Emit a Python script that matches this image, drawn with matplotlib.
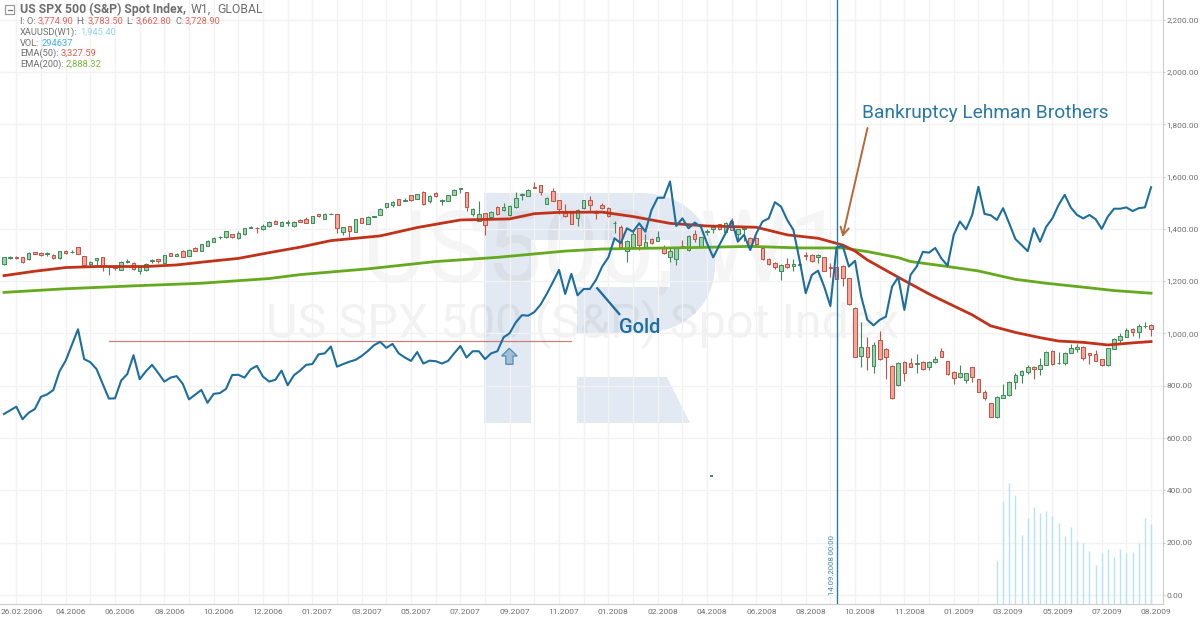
import numpy as np
import matplotlib
matplotlib.use('Agg')
import matplotlib.pyplot as plt
from matplotlib.patches import PathPatch, Polygon, Rectangle
from matplotlib.path import Path
from matplotlib.transforms import offset_copy

plt.rcParams['font.family'] = ['Roboto', 'DejaVu Sans']

# weekly candles
opens = [1266,1290,1294,1291,1284,1311,1308,1303,1300,1287,
         1317,1311,1329,1296,1266,1281,1291,1254,1256,1243,
         1272,1268,1240,1243,1277,1283,1268,1306,1297,1317,
         1298,1327,1315,1336,1350,1367,1368,1380,1365,1380,
         1405,1405,1398,1409,1431,1412,1423,1409,1435,1436,
         1424,1456,1438,1456,1456,1388,1409,1389,1440,1419,
         1446,1454,1482,1491,1513,1508,1528,1515,1541,1507,
         1538,1506,1507,1530,1553,1540,1457,1431,1459,1447,
         1485,1472,1453,1485,1528,1527,1561,1567,1496,1544,
         1510,1462,1462,1443,1481,1510,1470,1491,1481,1421,
         1406,1315,1329,1402,1329,1360,1355,1332,1294,1283,
         1335,1318,1379,1329,1388,1398,1417,1389,1431,1379,
         1398,1366,1364,1326,1284,1268,1240,1266,1259,1262,
         1299,1301,1291,1292,1255,1253,1259,1211,1099,914,
         947,876,974,942,877,802,891,886,884,891,
         871,891,932,894,854,832,822,871,825,777,
         733,679,754,763,813,840,854,873,864,880,
         933,886,886,927,942,950,924,922,901,878,
         941,975,988,1016,1006,1027,1032]
closes = [1291,1292,1289,1273,1306,1304,1300,1309,1287,1314,
          1309,1313,1304,1263,1275,1287,1258,1256,1250,1275,
          1277,1245,1253,1266,1279,1276,1299,1298,1304,1294,
          1319,1317,1341,1355,1364,1369,1391,1368,1383,1402,
          1408,1403,1411,1428,1419,1426,1426,1426,1428,1424,
          1449,1448,1458,1458,1402,1406,1391,1437,1424,1447,
          1448,1475,1497,1504,1493,1511,1509,1533,1494,1526,
          1525,1509,1528,1549,1556,1485,1475,1456,1414,1465,
          1457,1482,1489,1519,1533,1549,1558,1542,1518,1508,
          1475,1451,1419,1472,1510,1490,1462,1479,1448,1424,
          1332,1355,1380,1338,1351,1345,1368,1307,1317,1329,
          1327,1373,1361,1367,1391,1408,1398,1424,1396,1398,
          1402,1338,1343,1284,1264,1253,1263,1253,1267,1265,
          1296,1278,1301,1239,1252,1207,1211,1113,911,947,
          909,956,904,911,752,888,848,873,886,865,
          891,904,911,845,828,848,848,835,777,752,
          682,758,765,816,841,855,871,864,881,931,
          883,888,927,943,948,905,918,896,878,943,
          979,990,1013,1007,1029,1029,1018]
highs = [1292,1297,1298,1292,1310,1312,1312,1313,1302,1317,
         1319,1320,1330,1297,1276,1290,1292,1258,1262,1277,
         1284,1272,1255,1270,1284,1285,1300,1307,1306,1318,
         1322,1329,1343,1357,1368,1374,1393,1382,1392,1405,
         1412,1408,1418,1430,1433,1431,1434,1430,1437,1445,
         1450,1457,1461,1462,1458,1408,1411,1439,1442,1449,
         1451,1478,1500,1507,1515,1517,1530,1535,1543,1528,
         1540,1516,1530,1553,1558,1541,1480,1505,1461,1470,
         1487,1498,1491,1540,1537,1552,1578,1569,1521,1555,
         1512,1495,1464,1474,1512,1525,1472,1500,1483,1430,
         1415,1356,1400,1404,1380,1365,1390,1340,1330,1330,
         1358,1375,1395,1370,1400,1412,1419,1426,1443,1400,
         1405,1368,1370,1335,1288,1272,1265,1290,1286,1270,
         1312,1303,1303,1293,1268,1255,1260,1212,1100,1045,
         985,968,1010,945,878,890,893,905,921,893,
         893,912,945,895,856,880,850,873,827,782,
         735,760,805,820,850,860,880,876,905,933,
         935,930,930,960,958,952,926,935,903,945,
         981,1000,1020,1020,1036,1043,1035]
lows = [1262,1286,1285,1271,1282,1302,1296,1297,1285,1285,
        1302,1308,1303,1262,1255,1262,1238,1225,1243,1241,
        1270,1243,1226,1240,1270,1268,1266,1296,1295,1292,
        1296,1315,1314,1334,1348,1362,1366,1366,1363,1378,
        1402,1383,1396,1407,1417,1410,1412,1407,1427,1422,
        1422,1447,1436,1455,1386,1377,1368,1387,1421,1417,
        1444,1452,1480,1484,1491,1505,1506,1513,1493,1498,
        1522,1490,1505,1528,1538,1468,1450,1429,1375,1440,
        1453,1469,1451,1480,1510,1525,1555,1530,1494,1506,
        1455,1445,1417,1410,1475,1470,1437,1477,1445,1383,
        1330,1272,1327,1320,1327,1343,1353,1305,1275,1262,
        1325,1316,1350,1327,1375,1385,1395,1387,1394,1360,
        1352,1333,1330,1282,1262,1247,1203,1250,1240,1255,
        1280,1275,1270,1237,1215,1205,1182,1110,910,870,
        862,850,900,824,750,800,817,870,848,862,
        860,887,909,843,808,830,810,815,775,745,
        680,677,752,760,786,810,845,826,842,878,
        880,884,878,925,930,900,885,894,875,875,
        939,965,985,990,982,1022,992]

gold = [692,706,720,672,697,711,758,767,784,855,896,956,1016,902,890,864,807,751,752,820,
        845,917,825,855,880,849,816,831,837,807,748,766,784,735,769,772,788,841,842,831,
        863,876,835,816,823,858,802,840,858,
        880,883,920,924,950,873,883,892,899,914,933,955,968,945,960,924,908,895,929,885,
        896,894,885,895,924,952,908,932,932,902,924,932,985,1001,1043,1070,1068,1082,1110,1151,
        1196,1243,1151,1228,1146,1170,1170,1205,
        1256,1291,1364,1345,1402,1389,1421,1389,1472,1519,1519,1581,1411,1440,1402,1424,1408,1345,1291,1338,
        1383,1431,1351,1377,1319,1383,1428,1440,1502,1485,1434,1396,1281,1154,1224,1240,1179,1105,1329,1335,
        1256,1278,1141,1052,1031,1052,1064,1179,1215,
        1090,1224,1256,1312,1309,1327,1287,1259,1377,1428,1398,1453,1561,1457,1452,1434,1479,1421,1361,1338,
        1315,1402,1351,1408,1440,1491,1530,1481,1453,1440,1453,1437,1400,1447,1477,1477,1482,1468,1479,1482,1559]

ema50_weeks = [0,5,10,15,23,28,33,38,43,48,53,61,67,74,82,86,90,97,102,108,114,122,127,132,136,138,140,145,150,152,157,160,164,168,171,175,179,183,186]
ema50 = [1221,1238,1252,1256,1256,1262,1275,1287,1309,1330,1355,1373,1405,1434,1438,1458,1463,1464,1447,1421,1411,1406,1377,1364,1338,1315,1281,1215,1151,1128,1071,1029,1004,984,971,966,956,964,969]

ema200_weeks = [0,10,21,32,43,48,59,70,80,91,97,113,121,129,136,140,145,147,153,158,164,169,175,180,186]
ema200 = [1157,1171,1182,1192,1210,1225,1247,1275,1291,1315,1323,1329,1333,1327,1327,1313,1290,1275,1256,1239,1207,1192,1177,1164,1154]

volume_weeks = list(range(161, 187))
volume = [131,360,427,382,229,293,335,312,321,303,274,225,259,206,197,168,115,162,176,147,176,162,166,199,293,271]

price_ticks = [0,200,400,600,800,1000,1200,1400,1600,1800,2000,2200]
date_labels = ['26.02.2006','04.2006','06.2006','08.2006','10.2006','12.2006','01.2007','03.2007',
               '05.2007','07.2007','09.2007','11.2007','01.2008','02.2008','04.2008','06.2008',
               '08.2008','10.2008','11.2008','01.2009','03.2009','05.2009','07.2009','08.2009']
lehman_week = 135
resistance = 971
resistance_weeks = [17, 92]

GREEN_F, GREEN_E = '#9ad4a7', '#3f8a5a'
RED_F, RED_E = '#f5a498', '#bf5347'
BLUE = '#1c6e9e'

fig = plt.figure(figsize=(12, 6.2), dpi=100)

# background layer in image pixels, for the watermark
bg = fig.add_axes([0, 0, 1, 1], zorder=0)
bg.set_xlim(0, 1200)
bg.set_ylim(620, 0)
bg.axis('off')

logo_col = '#e3e9f2'
V, L, C, Z = Path.MOVETO, Path.LINETO, Path.CURVE4, Path.CLOSEPOLY
verts = [(484,193),(640,193),(690,193),(715,230),(715,265),(715,300),(690,333),(640,333),(577,333),(577,287),
         (670,287),(670,240),(531,240),(531,423),(484,423),(484,193)]
codes = [V,L,C,C,C,C,C,C,L,L,L,L,L,L,L,Z]
bg.add_patch(PathPatch(Path(verts, codes), fc=logo_col, ec='none'))
bg.add_patch(Polygon([(577,377),(667,377),(690,423),(577,423)], fc=logo_col, ec='none'))
bg.text(362, 282, 'US500, W1', fontsize=72, color=(0, 0, 0, 0.04), va='baseline')
bg.text(266, 338, 'US SPX 500 (S&P) Spot Index', fontsize=35, color=(0, 0, 0, 0.05), va='baseline')

ax = fig.add_axes([0, 16/620, 1162.5/1200, 604/620], zorder=1)
ax.patch.set_alpha(0)
ax.set_xlim(-4/6.167, (1162.5-4)/6.167)
ax.set_ylim(-34.4, 2275)

ax.set_axisbelow(True)
ax.grid(True, color='#f2f2f2', lw=1)
ax.set_yticks(price_ticks)
ax.set_yticklabels([f'{p:,.2f}' for p in price_ticks])
ax.yaxis.tick_right()
ax.set_xticks(np.arange(2, 187, 4), minor=True)
ax.set_xticks(np.arange(2, 187, 8))
ax.set_xticklabels(date_labels)
ax.grid(True, which='minor', axis='x', color='#f2f2f2', lw=1)
ax.tick_params(axis='y', length=1.5, color='#cccccc', labelsize=6, labelcolor='#6f6f6f', pad=1.5)
ax.tick_params(axis='x', which='both', length=0, labelsize=6, labelcolor='#6f6f6f', pad=3.5)
for t in ax.get_xticklabels():
    t.set_transform(offset_copy(t.get_transform(), fig=fig, x=5, y=0, units='dots'))
for s in ['top', 'left']:
    ax.spines[s].set_visible(False)
for s in ['right', 'bottom']:
    ax.spines[s].set_color('#cccccc')

# volume bars hang from the bottom of the pane
ymin = ax.get_ylim()[0]
ax.vlines(volume_weeks, ymin, volume, color='#b4e3fa', lw=1.0, zorder=2)

# candles
weeks = np.arange(len(closes))
opens = np.array(opens)
closes = np.array(closes)
up = closes >= opens
ax.vlines(weeks[up], np.array(lows)[up], np.array(highs)[up], color=GREEN_E, lw=0.8, zorder=3)
ax.vlines(weeks[~up], np.array(lows)[~up], np.array(highs)[~up], color=RED_E, lw=0.8, zorder=3)
ax.bar(weeks[up], (closes - opens)[up], bottom=opens[up], width=0.58, color=GREEN_F, edgecolor=GREEN_E, lw=0.7, zorder=4)
ax.bar(weeks[~up], (opens - closes)[~up], bottom=closes[~up], width=0.58, color=RED_F, edgecolor=RED_E, lw=0.7, zorder=4)

ax.plot(ema200_weeks, ema200, color='#64a91e', lw=2.0, zorder=5)
ax.plot(ema50_weeks, ema50, color='#c2321b', lw=2.0, zorder=6)
ax.plot(weeks, gold, color=BLUE, lw=1.5, zorder=7, solid_joinstyle='round')

ax.plot(resistance_weeks, [resistance, resistance], color='#c9807c', lw=0.9, zorder=4)
ax.axvline(lehman_week, color='#2a7ba8', lw=1.0, zorder=8)

# drawings on top, in image pixels
fg = fig.add_axes([0, 0, 1, 1], zorder=2)
fg.set_xlim(0, 1200)
fg.set_ylim(620, 0)
fg.axis('off')

fg.text(832, 595, '14.09.2008 00:00', rotation=90, fontsize=5.6, color='#3f8bb3', ha='center', va='bottom')
fg.add_patch(Polygon([(509.3,348.3),(517.2,356),(513,356),(513,364.3),(505.8,364.3),(505.8,356),(501.6,356)],
                     fc='#a3bfd6', ec='#4d8fb5', lw=0.9))
fg.add_patch(Rectangle((709.5, 474.5), 3, 2, fc='#3d85b0', ec='none'))

fg.plot([597.3, 619.3], [288.3, 314], color=BLUE, lw=1.7)
fg.text(619, 333, 'Gold', fontsize=14.5, fontweight='medium', color=BLUE, va='baseline')

fg.text(861.5, 118.5, 'Bankruptcy Lehman Brothers', fontsize=13.75, color='#2a78a5', va='baseline')
fg.annotate('', xy=(842.5, 237), xytext=(867.5, 128),
            arrowprops=dict(arrowstyle='->,head_length=0.55,head_width=0.3', color='#b5683a', lw=1.4, shrinkA=0, shrinkB=0))

# header block
fg.add_patch(Rectangle((5, 5), 9, 9, fc='white', ec='#9a9a9a', lw=0.9))
fg.plot([7.5, 11.5], [9.5, 9.5], color='#777777', lw=0.9)
hdr = '#6e6e6e'
fg.text(20, 13, 'US SPX 500 (S&P) Spot Index,', fontsize=8.8, fontweight='bold', color=hdr, va='baseline')
fg.text(191, 13, 'W1,', fontsize=8.8, color=hdr, va='baseline')
fg.text(217, 13, 'GLOBAL', fontsize=8.8, color=hdr, va='baseline')
rows = [(24, [(20,'I: O:',hdr),(37.3,'3,774.90','#e8625c'),(76.7,'H:',hdr),(87.3,'3,783.50','#e8625c'),
              (126.7,'L:',hdr),(136,'3,662.80','#e8625c'),(175.7,'C:',hdr),(185,'3,728.90','#e8625c')]),
        (35, [(20,'XAUUSD(W1):',hdr),(80,'1,945.40','#8ed3fb')]),
        (45.5, [(20,'VOL:',hdr),(41.7,'294637','#3fb0f0')]),
        (56, [(20,'EMA(50):',hdr),(60.7,'3,327.59','#d4604c')]),
        (66.5, [(20,'EMA(200):',hdr),(65.7,'2,888.32','#7cb342')])]
for y, parts in rows:
    for x, s, c in parts:
        fg.text(x, y, s, fontsize=6.7, color=c, va='baseline')

plt.savefig('out.png', dpi=100)
